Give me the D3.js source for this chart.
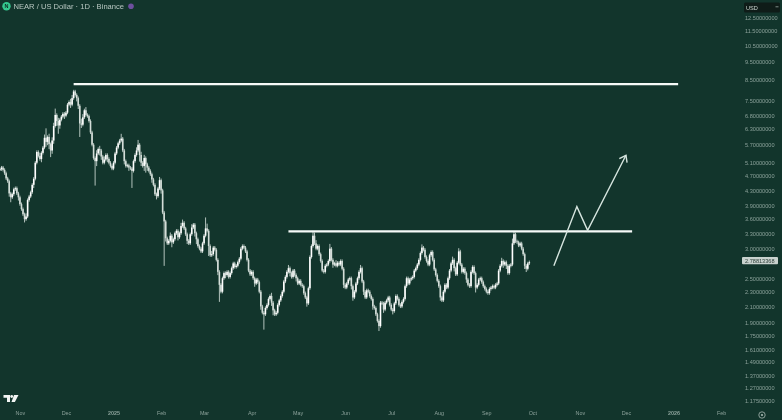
<!DOCTYPE html>
<html><head><meta charset="utf-8">
<script src="https://cdnjs.cloudflare.com/ajax/libs/d3/7.8.5/d3.min.js"></script>
<style>
html,body{margin:0;padding:0;background:#12352c;overflow:hidden}
svg{display:block;filter:blur(.5px)}
text{font-family:"Liberation Sans",Arial,sans-serif}
</style></head><body><svg id="c" width="782" height="420"></svg>
<script>
const startDate = "2024-10-20";
const closes = [
4.90,4.95,4.88,4.78,4.63,4.55,4.22,4.12,4.20,4.33,
4.36,4.22,4.12,3.95,3.83,3.71,3.60,3.66,4.05,4.14,
4.25,4.45,4.62,5.10,5.45,5.32,5.22,5.42,5.60,5.95,
5.80,5.98,5.72,5.50,5.85,6.40,6.85,6.60,6.42,6.65,
6.78,6.90,6.82,6.95,7.30,7.42,7.30,7.60,7.92,7.75,
7.60,7.25,6.50,6.45,6.75,7.05,6.85,6.80,6.60,6.15,
5.70,5.25,5.15,5.40,5.55,5.50,5.30,5.10,5.20,5.35,
5.22,5.10,5.00,4.92,5.10,5.40,5.60,5.75,5.85,5.92,
5.50,5.15,5.00,5.02,4.95,4.92,4.85,5.15,5.35,5.50,
5.70,5.35,5.10,5.00,5.25,5.05,4.95,4.85,4.75,4.60,
4.45,4.20,4.15,4.35,4.58,4.30,3.75,3.55,3.20,3.10,
3.15,3.25,3.12,3.18,3.30,3.35,3.22,3.30,3.45,3.52,
3.40,3.28,3.15,3.10,3.28,3.42,3.48,3.30,3.18,3.05,
3.00,2.95,3.10,3.25,3.40,3.35,3.05,2.88,2.90,3.02,
2.98,2.80,2.60,2.40,2.30,2.50,2.58,2.55,2.60,2.52,
2.58,2.66,2.74,2.68,2.70,2.76,2.82,3.00,3.05,3.02,
2.95,2.80,2.62,2.56,2.60,2.50,2.42,2.48,2.44,2.30,
2.10,2.02,2.00,2.08,2.12,2.20,2.24,2.15,2.05,2.00,
2.02,2.12,2.18,2.24,2.30,2.45,2.52,2.60,2.66,2.58,
2.52,2.62,2.55,2.50,2.42,2.46,2.40,2.38,2.28,2.22,
2.14,2.35,2.85,3.05,3.25,3.10,3.00,3.05,2.90,2.78,
2.62,2.60,2.70,2.72,2.78,3.00,2.80,2.72,2.74,2.70,
2.75,2.72,2.78,2.65,2.40,2.36,2.42,2.48,2.50,2.38,
2.22,2.30,2.42,2.50,2.60,2.66,2.45,2.30,2.22,2.32,
2.30,2.24,2.20,2.10,2.08,2.00,1.92,1.86,2.15,2.14,
2.06,2.15,2.18,2.22,2.12,2.06,2.04,2.14,2.24,2.20,
2.12,2.10,2.16,2.20,2.38,2.50,2.42,2.48,2.50,2.52,
2.62,2.66,2.72,2.80,2.92,3.02,2.98,2.85,2.78,2.72,
2.88,2.94,2.80,2.64,2.55,2.46,2.38,2.22,2.18,2.30,
2.40,2.36,2.50,2.62,2.74,2.80,2.66,2.56,2.75,2.95,
2.72,2.60,2.65,2.58,2.48,2.40,2.38,2.60,2.68,2.58,
2.36,2.40,2.48,2.50,2.44,2.38,2.34,2.30,2.28,2.34,
2.36,2.38,2.36,2.40,2.42,2.62,2.70,2.78,2.72,2.76,
2.70,2.58,2.70,2.72,3.10,3.28,3.14,3.12,3.06,3.10,
3.00,2.90,2.70,2.65,2.74,2.76];
const wickUpPct = [
1,1,1,1,1,1,1,1,1,1,
1,1,1,1,1,1,1,2,1,1,
1,1,1,1,1,1,2,1,1,2,
6,1,2,1,2,2,4,1,2,1,
1,1,1,1,1,1,2,2,1,1,
1,1,1,3,2,1,2,1,1,1,
1,1,1,2,1,2,1,1,2,1,
1,1,1,1,1,1,1,1,1,3,
1,1,1,1,1,1,1,1,1,2,
3,1,2,1,2,1,1,1,1,1,
1,1,1,1,2,1,1,1,1,1,
1,2,1,1,1,1,1,1,2,2,
1,1,1,1,1,2,1,1,1,1,
1,1,1,1,7,3,1,1,2,1,
1,1,1,1,1,1,1,1,1,1,
1,1,1,1,1,1,1,1,1,1,
1,1,1,1,1,1,1,1,1,1,
1,1,1,1,1,1,1,2,1,1,
1,1,1,1,1,1,1,1,2,1,
1,1,1,1,1,1,1,1,1,1,
1,1,1,1,3,2,2,1,1,1,
1,1,1,1,1,3,1,1,1,2,
1,1,1,1,1,1,1,1,1,1,
1,1,1,1,1,2,1,1,1,1,
1,1,1,1,1,1,1,1,1,1,
1,1,1,1,1,1,1,1,1,1,
1,1,1,1,1,1,1,1,1,1,
1,1,1,1,1,2,1,1,1,1,
1,1,1,1,1,1,1,1,1,1,
1,1,1,1,1,2,1,1,1,2,
1,1,1,1,1,1,1,1,1,1,
1,1,1,1,1,1,1,1,1,1,
1,1,1,1,1,1,1,2,1,1,
1,1,1,1,3,2,1,1,1,1,
1,1,1,1,1,1];
const wickDownPct = [
1,1,1,1,1,1,2,3,1,1,
1,1,2,1,1,1,2,1,1,1,
1,1,2,1,1,1,1,2,1,1,
3,2,3,4,2,2,1,3,5,2,
1,1,2,1,1,1,2,1,1,1,
2,2,8,2,1,1,1,1,1,1,
1,1,14,3,1,3,2,1,1,1,
2,1,1,1,1,1,1,1,1,1,
1,2,1,1,2,1,10,1,1,1,
1,4,2,1,3,5,2,1,1,2,
1,1,2,1,1,2,1,24,2,1,
1,1,3,1,1,1,2,1,1,1,
1,1,2,1,1,1,1,2,3,1,
1,1,1,1,1,1,6,1,1,1,
1,1,2,10,1,1,1,2,1,1,
1,1,1,1,1,1,1,1,1,1,
1,1,1,1,1,1,2,1,1,1,
2,1,9,1,1,1,1,2,3,1,
1,1,1,1,1,1,1,1,1,2,
1,1,1,2,1,1,1,1,1,1,
2,1,1,1,1,1,1,1,1,1,
1,1,1,1,1,1,1,2,1,1,
1,1,1,1,2,1,1,1,1,2,
2,1,1,1,1,1,1,2,1,1,
1,1,1,2,1,1,1,3,1,1,
2,1,1,1,1,1,2,1,1,1,
1,1,1,1,1,1,1,1,1,1,
1,1,1,1,1,1,1,1,1,1,
1,1,1,1,1,1,1,2,1,1,
1,1,1,1,1,1,2,1,1,1,
1,1,1,1,2,1,1,1,1,1,
3,1,1,1,1,1,1,1,1,1,
1,1,1,1,1,1,1,1,2,1,
2,1,1,1,1,1,1,1,1,1,
1,1,2,2,1,1];

const titleText = "NEAR / US Dollar · 1D · Binance";
const priceTicks = [12.5,11.5,10.5,9.5,8.5,7.5,6.8,6.3,5.7,5.1,4.7,4.3,3.9,3.6,3.3,3.0,2.5,2.3,2.1,1.9,1.75,1.61,1.49,1.37,1.27,1.175];
const lastPrice = 2.788;
const lastPriceLabel = "2.78813368";
const currencyLabel = "USD";
const monthTicks = ["2024-11-01","2024-12-01","2025-01-01","2025-02-01","2025-03-01","2025-04-01","2025-05-01","2025-06-01","2025-07-01","2025-08-01","2025-09-01","2025-10-01","2025-11-01","2025-12-01","2026-01-01","2026-02-01"];
const monthLabels = ["Nov","Dec","2025","Feb","Mar","Apr","May","Jun","Jul","Aug","Sep","Oct","Nov","Dec","2026","Feb"];
const resistanceTop = {from:"2024-12-07",to:"2026-01-05",price:8.29};
const resistanceMid = {from:"2025-04-26",to:"2025-12-06",price:3.34};
const arrowDates = ["2025-10-16","2025-10-31","2025-11-07","2025-12-02"];
const arrowPrices = [2.70,3.89,3.36,5.34];

const P = d => new Date(d+"T00:00:00Z");
const svg = d3.select("#c");
const x = d3.scaleUtc().domain([P("2025-01-01"),P("2026-01-01")]).range([112,672]);
const y = d3.scaleLog().domain([8.5,1.175]).range([80,400.5]);

const DAY = 86400000;
const t0 = P(startDate).getTime();
const candles = closes.map((c,i)=>{
  const o = i? closes[i-1]:c;
  return {date:new Date(t0+i*DAY),o,c,
    h:Math.max(o,c)*(1+wickUpPct[i]/100),
    l:Math.min(o,c)*(1-wickDownPct[i]/100)};
});

svg.append("g").selectAll("line").data(candles).join("line")
  .attr("x1",d=>x(d.date)).attr("x2",d=>x(d.date))
  .attr("y1",d=>y(d.h)).attr("y2",d=>y(d.l))
  .attr("stroke","#b3c3bd").attr("stroke-width",1);
svg.append("g").selectAll("rect").data(candles).join("rect")
  .attr("x",d=>x(d.date)-.8).attr("width",1.6)
  .attr("y",d=>y(Math.max(d.o,d.c)))
  .attr("height",d=>Math.max(1,Math.abs(y(d.o)-y(d.c))))
  .attr("fill",d=>d.c>=d.o?"#ffffff":"#d3ddd8");

[resistanceTop,resistanceMid].forEach(r=>{
  svg.append("line").attr("x1",x(P(r.from))).attr("x2",x(P(r.to)))
    .attr("y1",y(r.price)).attr("y2",y(r.price))
    .attr("stroke","#f6faf8").attr("stroke-width",2.2);
});

const pts = arrowDates.map((d,i)=>[x(P(d)),y(arrowPrices[i])]);
svg.append("path").attr("d",d3.line()(pts)).attr("fill","none")
  .attr("stroke","#d6e5df").attr("stroke-width",1.4).attr("stroke-linejoin","miter");
const a=pts[2],b=pts[3],ang=Math.atan2(b[1]-a[1],b[0]-a[0]),L=7.5;
svg.append("path").attr("d",d3.line()([
  [b[0]-L*Math.cos(ang-.62),b[1]-L*Math.sin(ang-.62)],b,
  [b[0]-L*Math.cos(ang+.62),b[1]-L*Math.sin(ang+.62)]]))
  .attr("fill","none").attr("stroke","#d6e5df").attr("stroke-width",1.4);

const ay = svg.append("g").attr("transform","translate(745,0)")
  .call(d3.axisRight(y).tickValues(priceTicks).tickSize(0).tickPadding(0).tickFormat(d3.format(".8f")));
ay.select(".domain").remove();
ay.selectAll("text").attr("font-size",5.6).attr("fill","#8ba19a").attr("font-family","Liberation Sans");

const ax = svg.append("g").attr("transform","translate(1.5,411.5)")
  .call(d3.axisBottom(x).tickValues(monthTicks.map(P)).tickSize(0).tickPadding(0)
    .tickFormat((d,i)=>monthLabels[i]));
ax.select(".domain").remove();
ax.selectAll("text").attr("font-size",5.4).attr("fill","#8ba19a").attr("font-family","Liberation Sans")
  .attr("font-weight",(d,i)=>/^20/.test(monthLabels[i])?"bold":"normal");

svg.append("rect").attr("x",742).attr("y",y(lastPrice)-3.6).attr("width",36).attr("height",7.2).attr("rx",1).attr("fill","#c9d2ce");
svg.append("text").attr("x",745).attr("y",y(lastPrice)+2).attr("font-size",5.6).attr("fill","#2c3f39").text(lastPriceLabel);

svg.append("rect").attr("x",744).attr("y",2.5).attr("width",36).attr("height",10).attr("rx",1.5).attr("fill","#0f1c18");
svg.append("text").attr("x",746).attr("y",9.5).attr("font-size",5.6).attr("fill","#cfd8d4").text(currencyLabel);
svg.append("path").attr("d","M775.5 6.8h3").attr("stroke","#9aa8a3").attr("stroke-width",.8);

svg.append("circle").attr("cx",6.5).attr("cy",6.3).attr("r",4.2).attr("fill","#34c88f");
svg.append("text").attr("x",6.5).attr("y",8.3).attr("text-anchor","middle").attr("font-size",5.5).attr("font-weight","bold").attr("fill","#0d2a22").text("N");
svg.append("text").attr("x",13.5).attr("y",9).attr("font-size",7.6).attr("fill","#b9c8c2").text(titleText);
svg.append("circle").attr("cx",131).attr("cy",6.3).attr("r",2.8).attr("fill","#6d4f9e");

// TradingView-style mark
svg.append("path").attr("fill","#f2f5f3")
  .attr("d","M3.5 395h6.5v7h-3v-4.3h-3.5z M14 395h4.5l-3.6 7h-3.4z");
svg.append("circle").attr("cx",11.7).attr("cy",396.5).attr("r",1.4).attr("fill","#f2f5f3");

svg.append("circle").attr("cx",762).attr("cy",415).attr("r",3.2).attr("fill","none").attr("stroke","#a8b8b2").attr("stroke-width",.8);
svg.append("circle").attr("cx",762).attr("cy",415).attr("r",1.1).attr("fill","#a8b8b2");
</script></body></html>
